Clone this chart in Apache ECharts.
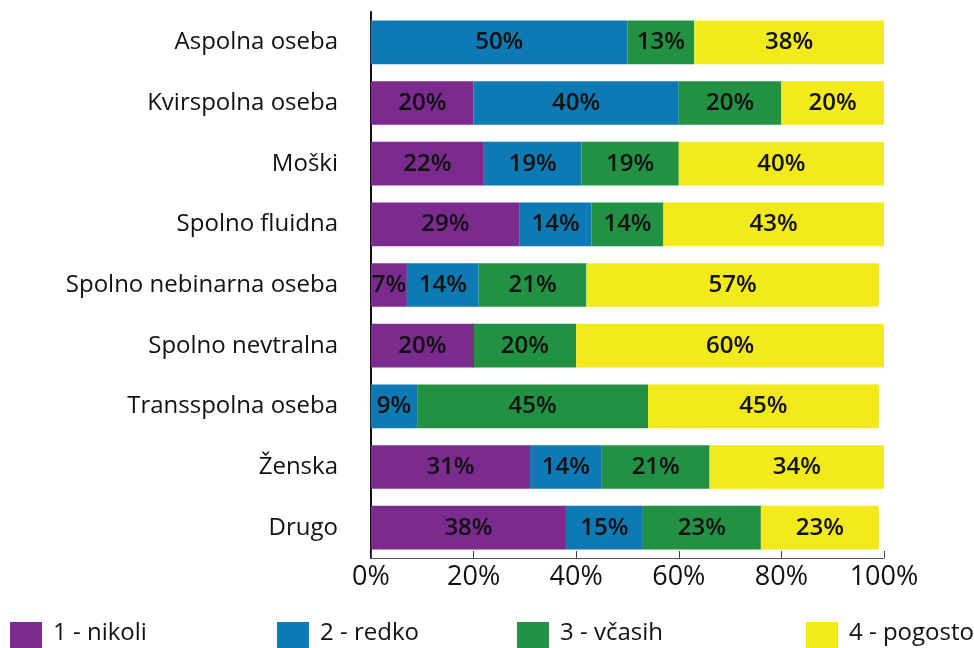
<!DOCTYPE html>
<html>
<head>
<meta charset="utf-8">
<title>Pogostost po spolni identiteti</title>
<script src="https://cdn.jsdelivr.net/npm/echarts@6/dist/echarts.min.js"></script>
<style>
  html, body { margin: 0; padding: 0; background: #fff; }
  #chart { width: 974px; height: 648px; }
</style>
</head>
<body>
<div id="chart"></div>
<script>
// Categories (top to bottom) and shares per answer, in percent
const categories = ['Aspolna oseba', 'Kvirspolna oseba', 'Moški', 'Spolno fluidna',
  'Spolno nebinarna oseba', 'Spolno nevtralna', 'Transspolna oseba', 'Ženska', 'Drugo'];
const nikoli  = [0, 20, 22, 29, 7, 20, 0, 31, 38];
const redko   = [50, 40, 19, 14, 14, 0, 9, 14, 15];
const vcasih  = [13, 20, 19, 14, 21, 20, 45, 21, 23];
const pogosto = [38, 20, 40, 43, 57, 60, 45, 34, 23];
const seriesNames = ['1 - nikoli', '2 - redko', '3 - včasih', '4 - pogosto'];
const xTicks = [0, 20, 40, 60, 80, 100];

const colors = ['#7b2b8d', '#0e7ab3', '#239144', '#f2ea1a'];
const FONT = '"Open Sans", "Noto Sans", sans-serif';
const TEXT = '#111111';

const chart = echarts.init(document.getElementById('chart'), null, { renderer: 'canvas' });

const values = [nikoli, redko, vcasih, pogosto];
const series = values.map((arr, i) => ({
  name: seriesNames[i],
  type: 'bar',
  stack: 'total',
  barCategoryGap: '28%',
  itemStyle: { color: colors[i] },
  // an empty segment still leaves a thin seam between its neighbours
  data: arr.map(v => v === 0
    ? { value: v, itemStyle: { borderColor: '#333', borderWidth: 0.8 } }
    : v),
  label: {
    show: true,
    position: 'inside',
    fontFamily: FONT,
    fontSize: 24,
    fontWeight: 600,
    color: TEXT,
    formatter: p => (p.value ? p.value + '%' : '')
  },
  emphasis: { disabled: true },
  animation: false
}));

const legendLeft = [10, 277, 517, 806];
const legends = seriesNames.map((n, i) => ({
  data: [n],
  left: legendLeft[i],
  top: 621,
  padding: 0,
  itemWidth: 32,
  itemHeight: 32,
  itemGap: 0,
  icon: 'rect',
  selectedMode: false,
  itemStyle: { borderWidth: 0 },
  formatter: name => '{t|' + name + '}',
  textStyle: {
    fontFamily: FONT,
    fontSize: 24,
    color: TEXT,
    rich: {
      t: { fontFamily: FONT, fontSize: 24, color: TEXT, padding: [0, 0, 10, 6] }
    }
  }
}));

chart.setOption({
  backgroundColor: '#ffffff',
  animation: false,
  color: colors,
  textStyle: { fontFamily: FONT },
  grid: { left: 371, right: 90, top: 12, bottom: 90, containLabel: false },
  legend: legends,
  xAxis: {
    type: 'value',
    min: xTicks[0],
    max: xTicks[xTicks.length - 1],
    interval: xTicks[1] - xTicks[0],
    axisLine: { show: true, lineStyle: { color: '#555', width: 1 } },
    axisTick: { show: true, inside: true, length: 7, lineStyle: { color: '#444', width: 1 } },
    splitLine: { show: false },
    axisLabel: {
      fontFamily: FONT,
      fontSize: 27,
      color: TEXT,
      margin: 6,
      formatter: '{value}%'
    }
  },
  yAxis: {
    type: 'category',
    inverse: true,
    data: categories,
    axisLine: { show: true, lineStyle: { color: '#111', width: 2 } },
    axisTick: { show: false },
    axisLabel: { fontFamily: FONT, fontSize: 24, color: TEXT, margin: 33 }
  },
  series: series
});
</script>
</body>
</html>
